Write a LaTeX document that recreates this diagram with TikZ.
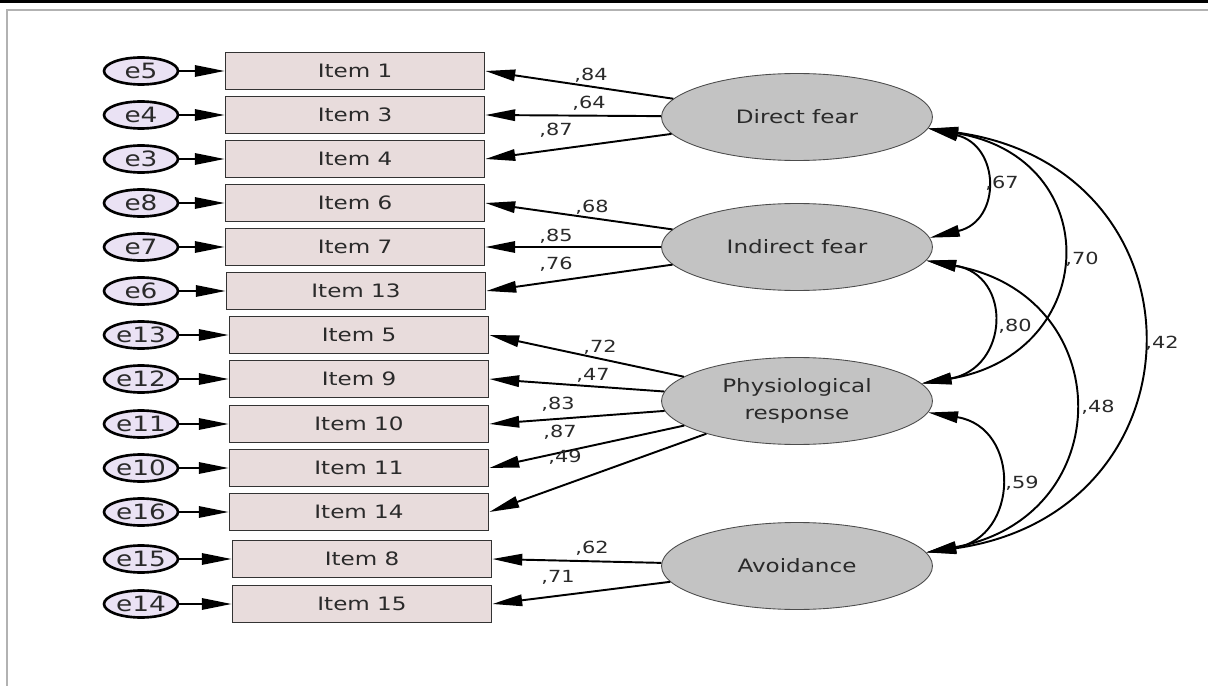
\documentclass[tikz,border=0pt]{standalone}
\usepackage{fontspec}
\newfontfamily\semfont[FakeStretch=1.25]{DejaVu Sans}
\usetikzlibrary{shapes.geometric, arrows.meta}
\definecolor{itemfill}{HTML}{E8DCDC}
\definecolor{errfill}{HTML}{EAE2F4}
\definecolor{latfill}{HTML}{C3C3C3}
\definecolor{txt}{HTML}{2A2A2A}

\begin{document}
\begin{tikzpicture}[x=0.02cm, y=-0.02cm,
  item/.style={rectangle, draw=black!80, line width=1pt, fill=itemfill,
    minimum width=5.18cm, minimum height=0.74cm, font=\semfont\fontsize{10.5}{12}\selectfont, text=txt},
  err/.style={ellipse, draw, line width=1.5pt, fill=errfill, inner sep=0pt,
    minimum width=1.48cm, minimum height=0.54cm, font=\semfont\fontsize{12}{12}\selectfont, text=txt},
  latent/.style={ellipse, draw=black!70, line width=0.5pt, fill=latfill, align=center,
    minimum width=5.42cm, minimum height=1.74cm, font=\semfont\fontsize{10.5}{15.5}\selectfont, text=txt},
  load/.style={-{Triangle[length=17pt, width=6.5pt]}, line width=1.1pt},
  cov/.style={{Triangle[length=17pt, width=6.5pt]}-{Triangle[length=17pt, width=6.5pt]}, line width=1.1pt},
  coef/.style={font=\semfont\fontsize{9.5}{10}\selectfont, text=txt, inner sep=1pt}]
  \useasboundingbox (0,0) rectangle (1208,686);
  % frame
  \draw[line width=1.7pt] (0,1.5) -- (1208,1.5);
  \draw[black!30, line width=0.6pt] (7,686) -- (7,10) -- (1208,10);

  % latent factors
  \node[latent] (df) at (797,117) {Direct fear};
  \node[latent] (if) at (797,247) {Indirect fear};
  \node[latent] (pr) at (797,401) {Physiological\\response};
  \node[latent] (av) at (797,566) {Avoidance};

  % observed items
  \node[item] (i1) at (355,71) {Item 1};
  \node[item] (i3) at (355,115) {Item 3};
  \node[item] (i4) at (355,159) {Item 4};
  \node[item] (i6) at (355,203) {Item 6};
  \node[item] (i7) at (355,247) {Item 7};
  \node[item] (i13) at (356,291) {Item 13};
  \node[item] (i5) at (359,335) {Item 5};
  \node[item] (i9) at (359,379) {Item 9};
  \node[item] (i10) at (359,424) {Item 10};
  \node[item] (i11) at (359,468) {Item 11};
  \node[item] (i14) at (359,512) {Item 14};
  \node[item] (i8) at (362,559) {Item 8};
  \node[item] (i15) at (362,604) {Item 15};

  % error terms
  \foreach \e/\i in {e5/i1, e4/i3, e3/i4, e8/i6, e7/i7, e6/i13, e13/i5,
                     e12/i9, e11/i10, e10/i11, e16/i14, e15/i8, e14/i15} {
    \node[err] (\e) at (141,0 |- \i) {\e};
    \draw[load] (\e) -- (\i);
  }

  % loadings
  \draw[load] (df) -- (i1.east);
  \draw[load] (df) -- (i3.east);
  \draw[load] (df) -- (i4.east);
  \draw[load] (if) -- (i6.east);
  \draw[load] (if) -- (i7.east);
  \draw[load] (if) -- (i13.east);
  \draw[load] (pr) -- (i5.east);
  \draw[load] (pr) -- (i9.east);
  \draw[load] (pr) -- (i10.east);
  \draw[load] (pr) -- (i11.east);
  \draw[load] (pr) -- (i14.east);
  \draw[load] (av) -- (i8.east);
  \draw[load] (av) -- (i15.east);

  \node[coef] at (591,75) {,84};
  \node[coef] at (589,103) {,64};
  \node[coef] at (556,130) {,87};
  \node[coef] at (592,207) {,68};
  \node[coef] at (556,236) {,85};
  \node[coef] at (556,264) {,76};
  \node[coef] at (600,347) {,72};
  \node[coef] at (593,375) {,47};
  \node[coef] at (558,404) {,83};
  \node[coef] at (560,432) {,87};
  \node[coef] at (565,457) {,49};
  \node[coef] at (592,548) {,62};
  \node[coef] at (558,577) {,71};

  % correlations
  \draw[cov] (df.-5) .. controls +(72,17) and +(72,-17) .. (if.4);
  \draw[cov] (df.-5) .. controls +(179,30) and +(179,-30) .. (pr.8);
  \draw[cov] (df.-5) .. controls +(283,40) and +(283,-40) .. (av.6);
  \draw[cov] (if.-6) .. controls +(87,15) and +(87,-15) .. (pr.8);
  \draw[cov] (if.-6) .. controls +(193,35) and +(193,-35) .. (av.6);
  \draw[cov] (pr.-5) .. controls +(93,15) and +(93,-15) .. (av.6);

  \node[coef] at (1002,183) {,67};
  \node[coef] at (1082,259) {,70};
  \node[coef] at (1162,343) {,42};
  \node[coef] at (1015,326) {,80};
  \node[coef] at (1098,407) {,48};
  \node[coef] at (1022,483) {,59};
\end{tikzpicture}
\end{document}
